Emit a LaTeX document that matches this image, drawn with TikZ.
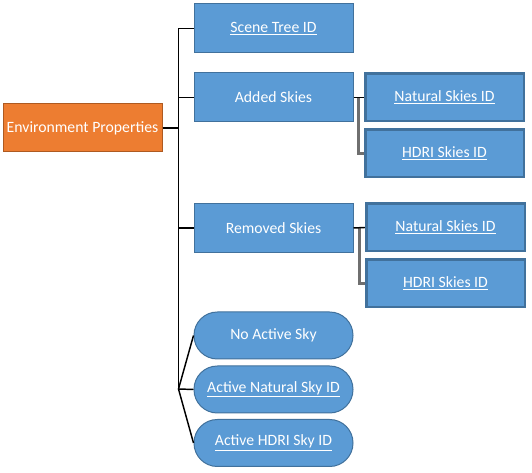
\documentclass[tikz,border=0pt]{standalone}
\usepackage{fontspec}
\setmainfont{Carlito}
\definecolor{boxblue}{HTML}{5B9BD5}
\definecolor{boxedge}{HTML}{41719C}
\definecolor{orangefill}{HTML}{ED7D31}
\definecolor{orangeedge}{HTML}{AE5A21}
\definecolor{subline}{HTML}{6F6F6F}
\tikzset{
  base/.style={text=white, font=\fontsize{11.8}{13}\selectfont, inner sep=0pt, align=center},
  bluebox/.style={base, rectangle, fill=boxblue, draw=boxedge, line width=0.75pt, minimum width=119.25pt, minimum height=36.75pt},
  subbox/.style={base, rectangle, fill=boxblue, draw=boxedge, line width=2pt, minimum width=119pt, minimum height=35.5pt},
  rootbox/.style={base, rectangle, fill=orangefill, draw=orangeedge, line width=0.75pt, minimum width=119.25pt, minimum height=36pt},
  pillbox/.style={base, rectangle, rounded corners=17.5pt, fill=boxblue, draw=boxedge, line width=0.75pt, minimum width=119.25pt, minimum height=35.25pt},
  conn/.style={black, line width=1.1pt},
  subconn/.style={subline, line width=1.6pt},
}
\begin{document}
\begin{tikzpicture}[x=0.75pt, y=-0.75pt]
\useasboundingbox (0,0) rectangle (532,473);
\node[rootbox] (env) at (82.5,128) {Environment Properties};
\node[bluebox] (scene) at (273.5,28.5) {\underline{Scene Tree ID}};
\node[bluebox] (added) at (273.5,97.5) {Added Skies};
\node[bluebox] (removed) at (273.5,228) {Removed Skies};
\node[subbox] (nat1) at (444.5,97.5) {\underline{Natural Skies ID}};
\node[subbox] (hdri1) at (444.5,153.5) {\underline{HDRI Skies ID}};
\node[subbox] (nat2) at (445.5,227.5) {\underline{Natural Skies ID}};
\node[subbox] (hdri2) at (445.5,283.5) {\underline{HDRI Skies ID}};
\node[pillbox] (noactive) at (273.5,335.5) {No Active Sky};
\node[pillbox] (actnat) at (273.5,389.5) {\underline{Active Natural Sky ID}};
\node[pillbox] (acthdri) at (273.5,443) {\underline{Active HDRI Sky ID}};
\coordinate (trunktop) at (178.5,28.5);
\coordinate (trunkbot) at (178.5,389);
\coordinate (split1) at (358.5,97.5);
\coordinate (split2) at (359.5,227.5);
% main trunk
\draw[conn] (scene.west) -- (trunktop) -- (trunkbot);
\draw[conn] (env.east) -- (env.east -| trunktop);
\draw[conn] (added.west) -- (added.west -| trunktop);
\draw[conn] (removed.west) -- (removed.west -| trunktop);
\draw[conn] (noactive.west) -- (trunkbot) -- (acthdri.west);
\draw[conn] (trunkbot) -- (actnat.west);
% sub branches
\draw[subconn] (split1) -- (split1 |- hdri1.west) -- (hdri1.west);
\draw[conn] (added.east) -- (nat1.west);
\draw[subconn] (split2) -- (split2 |- hdri2.west) -- (hdri2.west);
\draw[conn] (removed.east) -- (nat2.west);
\end{tikzpicture}
\end{document}
